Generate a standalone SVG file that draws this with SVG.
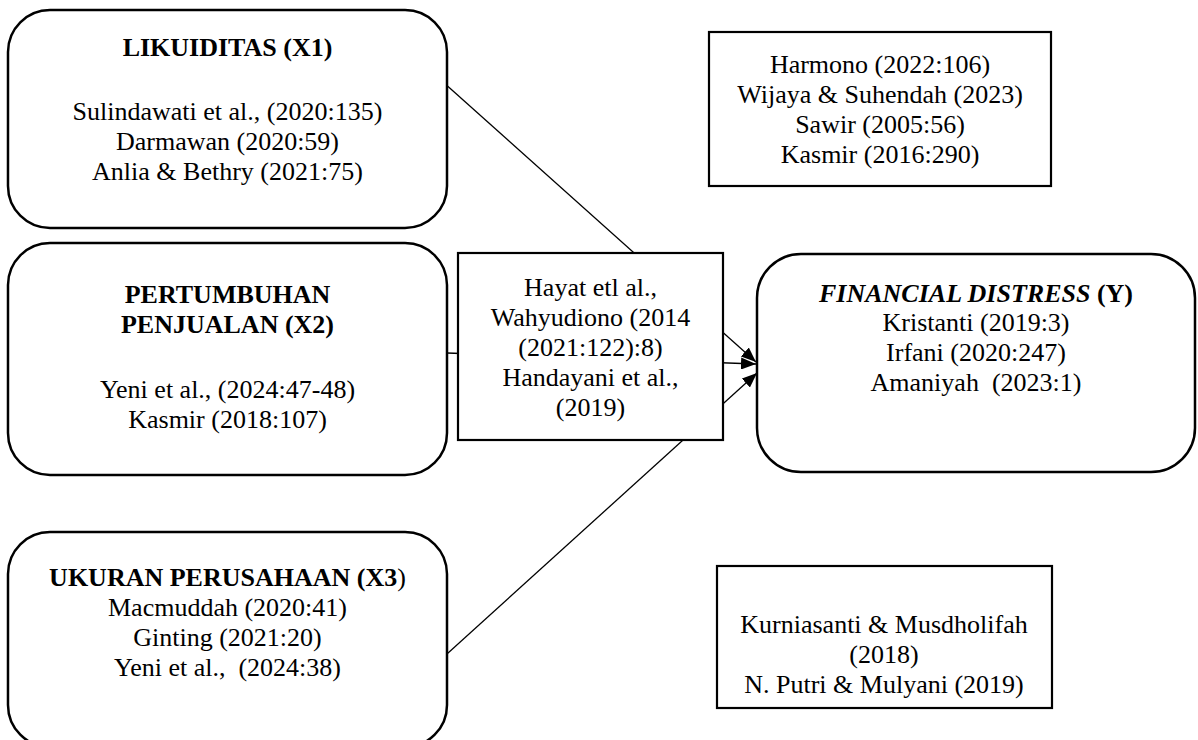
<svg xmlns="http://www.w3.org/2000/svg" width="1198" height="740" viewBox="0 0 1198 740">
<style>
text{font-family:"Liberation Serif","Times New Roman",serif;font-size:26px;fill:#000;text-anchor:middle;white-space:pre}
.b{font-weight:bold}
.bi{font-weight:bold;font-style:italic}
.rbox{fill:#fff;stroke:#000;stroke-width:2.5}
.box{fill:#fff;stroke:#000;stroke-width:2.2}
.con{stroke:#000;stroke-width:1.3;fill:none}
</style>
<defs>
<marker id="ah" viewBox="0 0 15 12" refX="15" refY="6" markerWidth="15" markerHeight="12" markerUnits="userSpaceOnUse" orient="auto">
<path d="M0,0 L15,6 L0,12 z" fill="#000"/>
</marker>
</defs>
<rect width="1198" height="740" fill="#fff"/>
<g id="connectors">
<line class="con" x1="443" y1="82" x2="756" y2="362" marker-end="url(#ah)"/>
<line class="con" x1="447" y1="353" x2="756" y2="364" marker-end="url(#ah)"/>
<line class="con" x1="437" y1="663" x2="757" y2="373" marker-end="url(#ah)"/>
</g>
<g id="x1">
<rect class="rbox" x="8" y="10" width="439" height="218" rx="42"/>
<text class="b" x="227.5" y="56">LIKUIDITAS (X1)</text>
<text x="227.5" y="120">Sulindawati et al., (2020:135)</text>
<text x="227.5" y="150">Darmawan (2020:59)</text>
<text x="227.5" y="180">Anlia &amp; Bethry (2021:75)</text>
</g>
<g id="x2">
<rect class="rbox" x="8" y="243" width="439" height="232" rx="42"/>
<text class="b" x="227.5" y="303">PERTUMBUHAN</text>
<text class="b" x="227.5" y="333">PENJUALAN (X2)</text>
<text x="227.5" y="398">Yeni et al., (2024:47-48)</text>
<text x="227.5" y="428">Kasmir (2018:107)</text>
</g>
<g id="x3">
<rect class="rbox" x="8" y="532" width="439" height="215" rx="42"/>
<text x="227.5" y="586"><tspan class="b">UKURAN PERUSAHAAN (X3</tspan>)</text>
<text x="227.5" y="616">Macmuddah (2020:41)</text>
<text x="227.5" y="646">Ginting (2021:20)</text>
<text x="227.5" y="676">Yeni et al.,  (2024:38)</text>
</g>
<g id="mediator">
<rect class="box" x="458" y="253" width="265" height="187"/>
<text x="590.5" y="296">Hayat etl al.,</text>
<text x="590.5" y="326">Wahyudiono (2014</text>
<text x="590.5" y="356">(2021:122):8)</text>
<text x="590.5" y="386">Handayani et al.,</text>
<text x="590.5" y="416">(2019)</text>
</g>
<g id="y">
<rect class="rbox" x="757" y="254" width="438" height="218" rx="44"/>
<text x="976" y="302"><tspan class="bi">FINANCIAL DISTRESS</tspan><tspan class="b"> (Y)</tspan></text>
<text x="976" y="331">Kristanti (2019:3)</text>
<text x="976" y="361">Irfani (2020:247)</text>
<text x="976" y="391">Amaniyah  (2023:1)</text>
</g>
<g id="ref-top">
<rect class="box" x="709" y="32" width="342" height="154"/>
<text x="880" y="73">Harmono (2022:106)</text>
<text x="880" y="103">Wijaya &amp; Suhendah (2023)</text>
<text x="880" y="133">Sawir (2005:56)</text>
<text x="880" y="163">Kasmir (2016:290)</text>
</g>
<g id="ref-bottom">
<rect class="box" x="717" y="566" width="335" height="142"/>
<text x="884" y="633">Kurniasanti &amp; Musdholifah</text>
<text x="884" y="663">(2018)</text>
<text x="884" y="693">N. Putri &amp; Mulyani (2019)</text>
</g>
</svg>
